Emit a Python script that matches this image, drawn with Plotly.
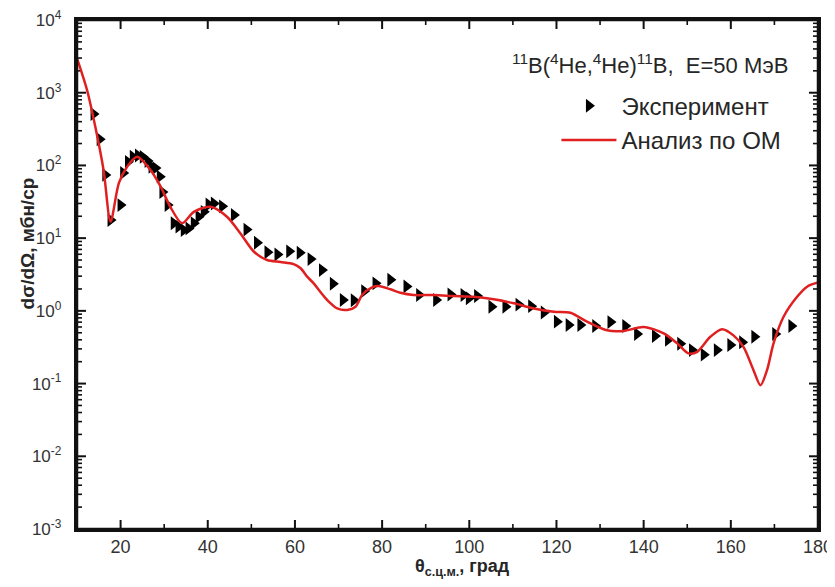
import plotly.graph_objects as go

# Experimental data (theta c.m., deg ; dsigma/dOmega, mb/sr)
exp_theta = [13.8, 15.2, 16.5, 17.7, 20.0, 20.6, 21.7, 22.8, 24.0, 25.1, 26.2, 27.1, 28.0, 29.0,
             29.6, 30.8, 32.2, 33.3, 34.5, 35.6, 36.8, 37.9, 39.1, 40.2, 41.4, 43.3, 46.0, 48.9,
             51.3, 53.7, 56.0, 58.7, 61.1, 63.6, 66.2, 68.7, 71.0, 73.5, 75.9, 78.5, 81.9, 85.6,
             88.5, 92.4, 95.7, 98.7, 99.9, 101.8, 105.1, 108.3, 111.3, 114.2, 117.1, 120.1, 122.8,
             125.5, 128.9, 132.4, 135.8, 138.5, 142.6, 145.6, 148.4, 151.1, 153.8, 156.8, 159.9,
             162.6, 165.4, 170.2, 173.9]
exp_sigma = [509, 229, 74, 17.7, 28.5, 78.6, 112, 132, 137, 131, 115, 96, 92, 70,
             43, 28.5, 16, 14.4, 12.9, 13.6, 16, 19.7, 23, 29, 30, 27.4, 20.8, 13.1,
             8.65, 6.4, 5.95, 6.58, 6.3, 5.15, 3.64, 2.36, 1.41, 1.40, 1.87, 2.39, 2.68, 2.17,
             1.65, 1.41, 1.68, 1.65, 1.49, 1.60, 1.14, 1.14, 1.22, 1.16, 0.95, 0.71, 0.64,
             0.64, 0.62, 0.70, 0.62, 0.48, 0.45, 0.40, 0.353, 0.289, 0.25, 0.289, 0.339,
             0.37, 0.44, 0.48, 0.62]

# Optical model calculation
om_theta = [10.0, 12.3, 14.2, 16.1, 17.7, 19.6, 21.5, 23.8, 26.9, 29.2, 31.4, 34.1, 36.8, 40.6,
            44.4, 47.5, 50.6, 53.6, 56.7, 59.7, 61.3, 62.8, 64.3, 65.8, 67.4, 69.7, 72.0, 73.9,
            75.4, 77.7, 79.2, 81.9, 84.2, 87.2, 91.8, 96.4, 101.0, 105.6, 110.2, 114.8, 119.4,
            123.2, 127.0, 131.6, 135.4, 140.0, 144.6, 147.7, 150.3, 152.2, 155.3, 158.0, 160.6,
            162.9, 165.2, 166.8, 168.3, 169.8, 172.1, 175.2, 177.5, 180.0]
om_sigma = [2970, 1090, 340, 86, 16.8, 57, 96, 132, 86, 51, 27, 16, 23, 27,
            19.7, 11.6, 6.5, 5.0, 4.7, 4.4, 3.85, 2.95, 2.39, 1.83, 1.41, 1.08, 1.03, 1.14,
            1.65, 2.1, 2.19, 1.98, 1.77, 1.65, 1.65, 1.6, 1.56, 1.44, 1.27, 1.08, 0.97,
            0.94, 0.71, 0.54, 0.53, 0.60, 0.49, 0.357, 0.26, 0.27, 0.44, 0.56, 0.46,
            0.32, 0.153, 0.095, 0.153, 0.357, 0.83, 1.56, 2.15, 2.45]

x_ticks = [20, 40, 60, 80, 100, 120, 140, 160, 180]
x_minor = [30, 50, 70, 90, 110, 130, 150, 170]
y_tickvals = [1e-3, 1e-2, 1e-1, 1e0, 1e1, 1e2, 1e3, 1e4]
y_ticktext = ["10<sup>-3</sup>\u00a0\u00a0", "10<sup>-2</sup>\u00a0\u00a0", "10<sup>-1</sup>\u00a0\u00a0",
              "10<sup>0</sup>\u00a0\u00a0", "10<sup>1</sup>\u00a0\u00a0", "10<sup>2</sup>\u00a0\u00a0",
              "10<sup>3</sup>\u00a0\u00a0", "10<sup>4</sup>\u00a0\u00a0"]
y_minor = [m * 10.0 ** e for e in range(-3, 4) for m in range(2, 10)]

X_RANGE = [10, 180]
Y_RANGE_LOG = [-3, 4]

FONT = "Liberation Sans, Arial, sans-serif"
TXT = "#262626"

# figure geometry (page body has an 8px default margin)
W, H = 827, 579
ML, MR, MT, MB = 69, 17, 12, 58
plot_w = W - ML - MR
plot_h = H - MT - MB
px_per_deg = plot_w / (X_RANGE[1] - X_RANGE[0])
px_per_dec = plot_h / (Y_RANGE_LOG[1] - Y_RANGE_LOG[0])
y_lo, y_hi = 10.0 ** Y_RANGE_LOG[0], 10.0 ** Y_RANGE_LOG[1]


def tick_segments(length_px, xvals, yvals):
    xs, ys = [], []
    fy = 10.0 ** (length_px / px_per_dec)
    dx = length_px / px_per_deg
    for t in xvals:
        if X_RANGE[0] < t < X_RANGE[1]:
            xs += [t, t, None, t, t, None]
            ys += [y_lo, y_lo * fy, None, y_hi, y_hi / fy, None]
    for v in yvals:
        if y_lo < v < y_hi * 0.999:
            xs += [X_RANGE[0], X_RANGE[0] + dx, None, X_RANGE[1], X_RANGE[1] - dx, None]
            ys += [v, v, None, v, v, None]
    return xs, ys


fig = go.Figure()

mxs, mys = tick_segments(9, x_ticks, y_tickvals)
nxs, nys = tick_segments(5, x_minor, y_minor)
fig.add_trace(go.Scatter(x=mxs, y=mys, mode="lines", line=dict(color="#111111", width=2),
                         showlegend=False, hoverinfo="skip", connectgaps=False, cliponaxis=False))
fig.add_trace(go.Scatter(x=nxs, y=nys, mode="lines", line=dict(color="#111111", width=1.6),
                         showlegend=False, hoverinfo="skip", connectgaps=False, cliponaxis=False))

fig.add_trace(go.Scatter(
    x=exp_theta, y=exp_sigma, mode="markers", name="Эксперимент",
    marker=dict(symbol="triangle-right", size=12, color="black"),
))
fig.add_trace(go.Scatter(
    x=om_theta, y=om_sigma, mode="lines", name="Анализ по ОМ",
    line=dict(color="#e02020", width=2.5, shape="spline", smoothing=0.8),
))

fig.update_layout(
    width=W, height=H,
    margin=dict(l=ML, r=MR, t=MT, b=MB, autoexpand=False),
    paper_bgcolor="white", plot_bgcolor="white",
    font=dict(family=FONT, color=TXT, size=16),
    showlegend=True,
    legend=dict(x=0.647, y=0.875, xanchor="left", yanchor="top",
                bgcolor="rgba(0,0,0,0)", font=dict(size=24, color=TXT),
                itemwidth=55, tracegroupgap=0),
    shapes=[dict(type="rect", xref="paper", yref="paper", x0=0, x1=1, y0=0, y1=1,
                 line=dict(color="#111111", width=2.5), fillcolor="rgba(0,0,0,0)", layer="above")],
    annotations=[
        dict(x=0.962, y=0.913, xref="paper", yref="paper", xanchor="right", yanchor="middle",
             text="<sup>11</sup>B(<sup>4</sup>He,<sup>4</sup>He)<sup>11</sup>B,  E=50 МэВ",
             showarrow=False, font=dict(size=22, color=TXT)),
        dict(x=-0.0675, y=0.561, xref="paper", yref="paper", xanchor="center", yanchor="middle",
             textangle=-90, text="<b>dσ/dΩ, мбн/ср</b>",
             showarrow=False, font=dict(size=19, color=TXT)),
        dict(x=0.52, y=-0.075, xref="paper", yref="paper", xanchor="center", yanchor="middle",
             text="<b>θ<sub>с.ц.м.</sub>, град</b>",
             showarrow=False, font=dict(size=18, color=TXT)),
    ],
)

fig.update_xaxes(
    range=X_RANGE, tickvals=x_ticks, ticks="", automargin=False,
    showline=True, linecolor="#111111", linewidth=2.5, mirror=True,
    showgrid=False, zeroline=False, tickfont=dict(size=18, color="#333333"),
    ticklabeloverflow="allow",
)
fig.update_yaxes(
    type="log", range=Y_RANGE_LOG, tickvals=y_tickvals, ticktext=y_ticktext,
    ticks="", automargin=False,
    showline=True, linecolor="#111111", linewidth=2.5, mirror=True,
    showgrid=False, zeroline=False, tickfont=dict(size=17, color="#333333"),
    ticklabeloverflow="allow",
)

fig.write_html("out.html")
